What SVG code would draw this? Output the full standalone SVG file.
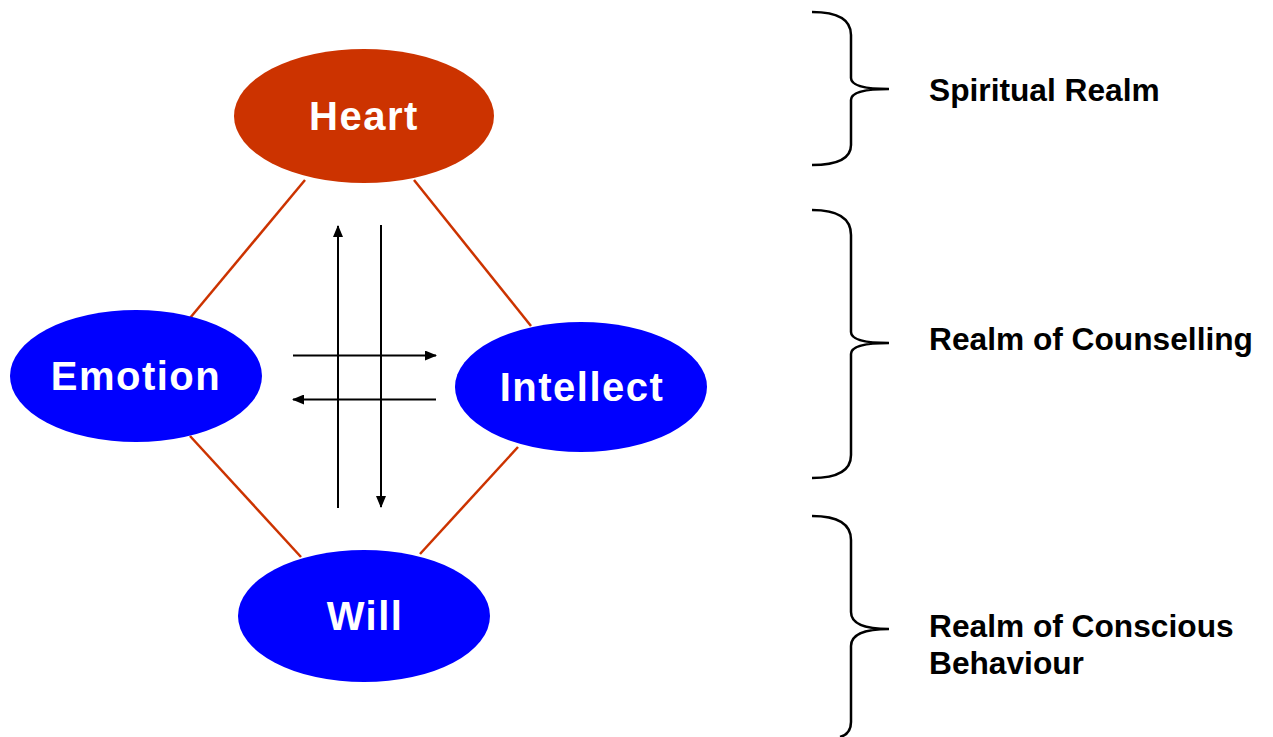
<svg xmlns="http://www.w3.org/2000/svg" width="1273" height="737" viewBox="0 0 1273 737">
<defs>
<style>
.node-text{font-family:"Liberation Sans",Arial,sans-serif;font-weight:bold;font-size:40px;fill:#fff;text-anchor:middle;letter-spacing:1.5px}
.label{font-family:"Liberation Sans",Arial,sans-serif;font-weight:bold;font-size:31.7px;fill:#000}
.link{stroke:#cc3300;stroke-width:2.5;fill:none}
.arrow{stroke:#000;stroke-width:2;fill:none;marker-end:url(#ah)}
.brace{stroke:#000;stroke-width:2.5;fill:none}
</style>
<marker id="ah" viewBox="0 0 12 10" refX="11" refY="5" markerWidth="12" markerHeight="10" markerUnits="userSpaceOnUse" orient="auto">
<path d="M0,0 L12,5 L0,10 z" fill="#000"/>
</marker>
</defs>
<rect width="1273" height="737" fill="#fff"/>
<g id="connectors">
<line class="link" x1="305" y1="180" x2="190" y2="318"/>
<line class="link" x1="414" y1="180" x2="531" y2="326"/>
<line class="link" x1="190" y1="436" x2="301" y2="557"/>
<line class="link" x1="518" y1="447" x2="420" y2="554"/>
<line class="arrow" x1="338" y1="508" x2="338" y2="226"/>
<line class="arrow" x1="381" y1="225" x2="381" y2="507"/>
<line class="arrow" x1="293" y1="355.5" x2="436" y2="355.5"/>
<line class="arrow" x1="436" y1="399.5" x2="293" y2="399.5"/>
</g>
<g id="heart">
<ellipse cx="364" cy="116" rx="130" ry="67" fill="#cc3300"/>
<text class="node-text" x="364" y="130">Heart</text>
</g>
<g id="emotion">
<ellipse cx="136" cy="376" rx="126" ry="66" fill="#0000ff"/>
<text class="node-text" x="136" y="390">Emotion</text>
</g>
<g id="intellect">
<ellipse cx="581" cy="387" rx="126" ry="65" fill="#0000ff"/>
<text class="node-text" x="582" y="401">Intellect</text>
</g>
<g id="will">
<ellipse cx="364" cy="616" rx="126" ry="66" fill="#0000ff"/>
<text class="node-text" x="365" y="630">Will</text>
</g>
<g id="brace-spiritual">
<path class="brace" d="M812,12 Q851,12 851,35 L851,78 Q851,89 889,89 Q851,89 851,100 L851,145 Q851,165 812,165"/>
<text class="label" x="929" y="101">Spiritual Realm</text>
</g>
<g id="brace-counselling">
<path class="brace" d="M812,210 Q851,210 851,235 L851,332 Q851,343 889,343 Q851,343 851,354 L851,455 Q851,478 812,478"/>
<text class="label" x="929" y="350">Realm of Counselling</text>
</g>
<g id="brace-conscious">
<path class="brace" d="M812,516 Q851,516 851,540 L851,612 Q851,629 889,629 Q851,629 851,646 L851,722 Q851,734 840,737"/>
<text class="label" x="929" y="637">Realm of Conscious</text>
<text class="label" x="929" y="674">Behaviour</text>
</g>
</svg>
